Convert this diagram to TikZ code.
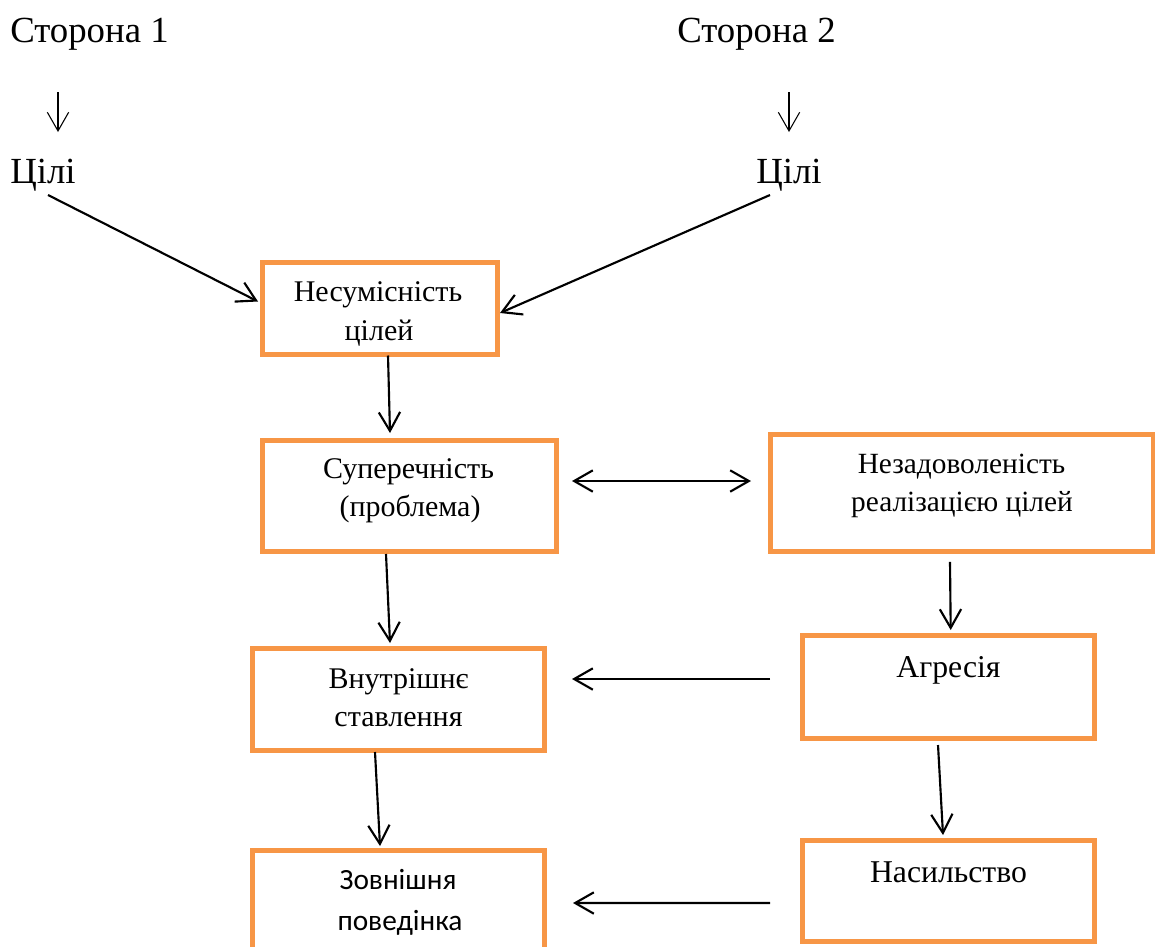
\documentclass[tikz,border=0pt]{standalone}
\usepackage{fontspec}
\setmainfont{Liberation Serif}
\newfontfamily\calib{Carlito}
\usetikzlibrary{arrows.meta}
\definecolor{boxorange}{HTML}{F79646}
\tikzset{
  box/.style={draw=boxorange, line width=3.75pt, inner sep=0pt, outer sep=0pt, rectangle},
  big/.style={font=\fontsize{27.6}{33}\selectfont, inner sep=0pt, anchor=base west},
  lbl/.style={font=\fontsize{22.5}{27}\selectfont, inner sep=0pt, anchor=base},
  sanslbl/.style={font=\calib\fontsize{22}{26}\selectfont, inner sep=0pt, anchor=base},
  arr/.style={line width=1.6pt, -{Straight Barb[length=14pt,width=16pt,line width=1.6pt]}},
  dblarr/.style={line width=1.6pt, {Straight Barb[length=14pt,width=16pt,line width=1.6pt]}-{Straight Barb[length=14pt,width=16pt,line width=1.6pt]}},
  tarr/.style={line width=0.8pt, -{Straight Barb[length=14pt,width=16pt,line width=0.8pt]}}
}
\begin{document}
\begin{tikzpicture}[x=0.75pt, y=-0.75pt]
\useasboundingbox (0,0) rectangle (1155,946);
\clip (0,0) rectangle (1155,946);

% top labels
\node[big] (s1) at (10,42) {Сторона 1};
\node[big] (s2) at (677,42) {Сторона 2};
\node[big] (c1) at (10,183) {Цілі};
\node[big] (c2) at (756,183) {Цілі};

% boxes
\node[box, minimum width=235*0.75pt, minimum height=92*0.75pt]  (b1) at (379.5,308.5) {};
\node[box, minimum width=294*0.75pt, minimum height=111*0.75pt] (b2) at (409,495.5) {};
\node[box, minimum width=383*0.75pt, minimum height=117*0.75pt] (b3) at (961.5,493.3) {};
\node[box, minimum width=292*0.75pt, minimum height=102*0.75pt] (b4) at (398,699) {};
\node[box, minimum width=292*0.75pt, minimum height=103*0.75pt] (b5) at (948,686.5) {};
\node[box, minimum width=292*0.75pt, minimum height=110*0.75pt] (b6) at (398,905) {};
\node[box, minimum width=292*0.75pt, minimum height=101*0.75pt] (b7) at (948,891.2) {};

% box texts
\node[lbl] (t1a) at (378,301.7) {Несумісність};
\node[lbl] (t1b) at (379,340) {цілей};
\node[lbl] (t2a) at (408.5,478) {Суперечність};
\node[lbl] (t2b) at (410,516.7) {(проблема)};
\node[lbl, font=\fontsize{22}{26}\selectfont] (t3a) at (961.5,473.3) {Незадоволеність};
\node[lbl, font=\fontsize{22}{26}\selectfont] (t3b) at (962,511.7) {реалізацією цілей};
\node[lbl] (t4a) at (398.5,688.3) {Внутрішнє};
\node[lbl] (t4b) at (398.5,726.7) {ставлення};
\node[lbl, font=\fontsize{23.8}{28}\selectfont] (t5) at (948.5,677.3) {Агресія};
\node[sanslbl] (t6a) at (398,889.3) {Зовнішня};
\node[sanslbl] (t6b) at (400,930) {поведінка};
\node[lbl, font=\fontsize{23.8}{28}\selectfont] (t7) at (948.5,882.7) {Насильство};

% connectors
\draw[tarr] ([shift={(48,50)}]s1.base west) -- ([shift={(48,-51)}]c1.base west);
\draw[tarr] ([shift={(112,50)}]s2.base west) -- ([shift={(33,-51)}]c2.base west);
\draw[arr] ([shift={(38,12)}]c1.base west) -- ([shift={(-4,-7)}]b1.west);
\draw[arr] ([shift={(14,12)}]c2.base west) -- ([shift={(3,4.5)}]b1.east);
\draw[arr] ([shift={(8.5,1)}]b1.south) -- ([shift={(-19,-7)}]b2.north);
\draw[dblarr] ([shift={(16,-14.5)}]b2.east) -- ([shift={(-19,-12.3)}]b3.west);
\draw[arr] ([shift={(-23,3)}]b2.south) -- ([shift={(-8,-5)}]b4.north);
\draw[arr] ([shift={(-11.5,10)}]b3.south) -- ([shift={(2.7,-5)}]b5.north);
\draw[arr] ([shift={(-32,-7.5)}]b5.west) -- ([shift={(28,-20)}]b4.east);
\draw[arr] ([shift={(-23,2)}]b4.south) -- ([shift={(-18,-4)}]b6.north);
\draw[arr] ([shift={(-10,7)}]b5.south) -- ([shift={(-5,-5.7)}]b7.north);
\draw[arr] ([shift={(-32,11.8)}]b7.west) -- ([shift={(29,-2)}]b6.east);
\end{tikzpicture}
\end{document}
